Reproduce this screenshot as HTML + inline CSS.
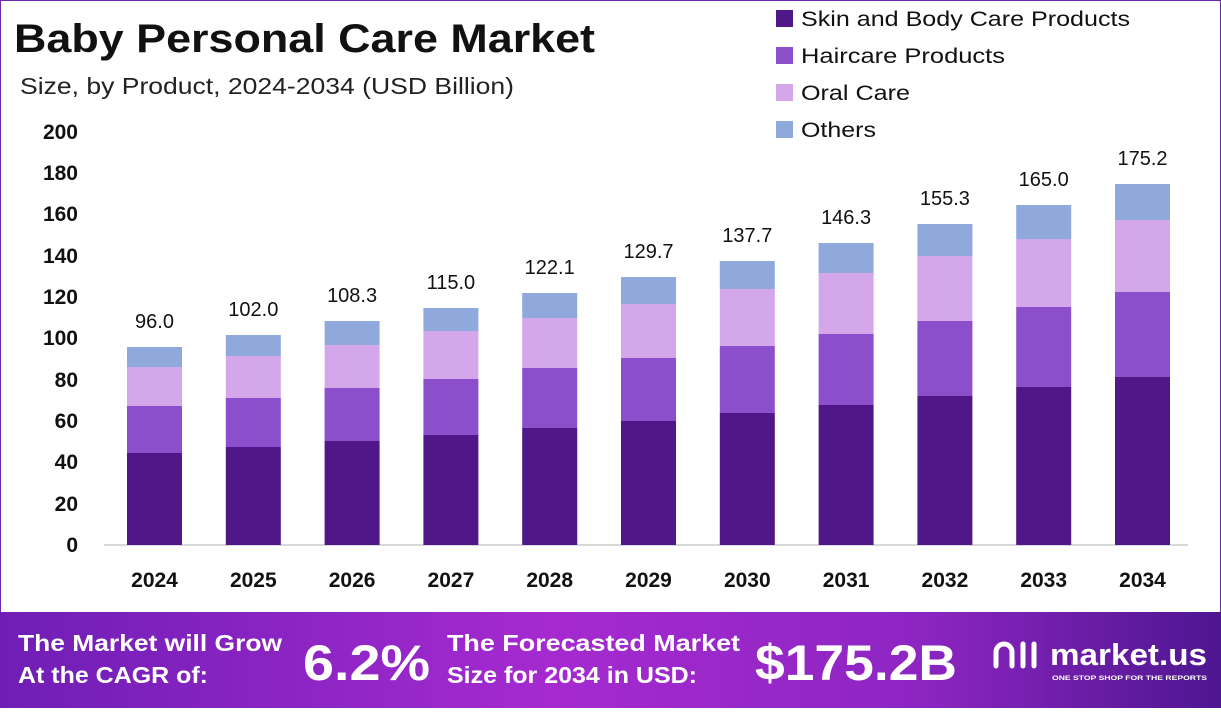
<!DOCTYPE html>
<html><head><meta charset="utf-8"><style>
body{margin:0;width:1221px;height:708px;overflow:hidden;background:#fff;font-family:"Liberation Sans",sans-serif}
</style></head><body>
<svg width="1221" height="708" viewBox="0 0 1221 708" xmlns="http://www.w3.org/2000/svg" font-family="Liberation Sans, sans-serif">
<defs>
<linearGradient id="ft" x1="0" x2="1" y1="0" y2="0">
<stop offset="0" stop-color="#6f1eb5"/><stop offset="0.45" stop-color="#a52ad0"/><stop offset="0.75" stop-color="#8e25c2"/><stop offset="1" stop-color="#4e1690"/>
</linearGradient>
</defs>
<rect x="0.5" y="0.5" width="1220" height="707" fill="none" stroke="#6a2aa8" stroke-width="1"/>
<text x="14" y="52" font-size="40" font-weight="bold" fill="#111" textLength="581" lengthAdjust="spacingAndGlyphs">Baby Personal Care Market</text>
<text x="20" y="94" font-size="23" fill="#222" textLength="494" lengthAdjust="spacingAndGlyphs">Size, by Product, 2024-2034 (USD Billion)</text>
<g font-size="21" font-weight="bold" fill="#111" text-anchor="end">
<text x="78" y="139">200</text><text x="78" y="180">180</text><text x="78" y="221">160</text><text x="78" y="263">140</text><text x="78" y="304">120</text><text x="78" y="345">100</text><text x="78" y="387">80</text><text x="78" y="428">60</text><text x="78" y="469">40</text><text x="78" y="511">20</text><text x="78" y="552">0</text>
</g>
<line x1="104" y1="545" x2="1188" y2="545" stroke="#ccc" stroke-width="1.5"/>
<g>
<rect x="127" y="453" width="55" height="92" fill="#4f1787"/><rect x="127" y="406" width="55" height="47" fill="#8b4fcc"/><rect x="127" y="367" width="55" height="39" fill="#d4a6ea"/><rect x="127" y="347" width="55" height="20" fill="#8fa9dc"/>
<rect x="225.8" y="447" width="55" height="98" fill="#4f1787"/><rect x="225.8" y="398" width="55" height="49" fill="#8b4fcc"/><rect x="225.8" y="356" width="55" height="42" fill="#d4a6ea"/><rect x="225.8" y="335" width="55" height="21" fill="#8fa9dc"/>
<rect x="324.6" y="441" width="55" height="104" fill="#4f1787"/><rect x="324.6" y="388" width="55" height="53" fill="#8b4fcc"/><rect x="324.6" y="345" width="55" height="43" fill="#d4a6ea"/><rect x="324.6" y="321" width="55" height="24" fill="#8fa9dc"/>
<rect x="423.4" y="435" width="55" height="110" fill="#4f1787"/><rect x="423.4" y="379" width="55" height="56" fill="#8b4fcc"/><rect x="423.4" y="331" width="55" height="48" fill="#d4a6ea"/><rect x="423.4" y="308" width="55" height="23" fill="#8fa9dc"/>
<rect x="522.2" y="428" width="55" height="117" fill="#4f1787"/><rect x="522.2" y="368" width="55" height="60" fill="#8b4fcc"/><rect x="522.2" y="318" width="55" height="50" fill="#d4a6ea"/><rect x="522.2" y="293" width="55" height="25" fill="#8fa9dc"/>
<rect x="621" y="421" width="55" height="124" fill="#4f1787"/><rect x="621" y="358" width="55" height="63" fill="#8b4fcc"/><rect x="621" y="304" width="55" height="54" fill="#d4a6ea"/><rect x="621" y="277" width="55" height="27" fill="#8fa9dc"/>
<rect x="719.8" y="413" width="55" height="132" fill="#4f1787"/><rect x="719.8" y="346" width="55" height="67" fill="#8b4fcc"/><rect x="719.8" y="289" width="55" height="57" fill="#d4a6ea"/><rect x="719.8" y="261" width="55" height="28" fill="#8fa9dc"/>
<rect x="818.6" y="405" width="55" height="140" fill="#4f1787"/><rect x="818.6" y="334" width="55" height="71" fill="#8b4fcc"/><rect x="818.6" y="273" width="55" height="61" fill="#d4a6ea"/><rect x="818.6" y="243" width="55" height="30" fill="#8fa9dc"/>
<rect x="917.4" y="396" width="55" height="149" fill="#4f1787"/><rect x="917.4" y="321" width="55" height="75" fill="#8b4fcc"/><rect x="917.4" y="256" width="55" height="65" fill="#d4a6ea"/><rect x="917.4" y="224" width="55" height="32" fill="#8fa9dc"/>
<rect x="1016.2" y="387" width="55" height="158" fill="#4f1787"/><rect x="1016.2" y="307" width="55" height="80" fill="#8b4fcc"/><rect x="1016.2" y="239" width="55" height="68" fill="#d4a6ea"/><rect x="1016.2" y="205" width="55" height="34" fill="#8fa9dc"/>
<rect x="1115" y="377" width="55" height="168" fill="#4f1787"/><rect x="1115" y="292" width="55" height="85" fill="#8b4fcc"/><rect x="1115" y="220" width="55" height="72" fill="#d4a6ea"/><rect x="1115" y="184" width="55" height="36" fill="#8fa9dc"/>
</g>
<g font-size="20" fill="#111" text-anchor="middle">
<text x="154.5" y="328">96.0</text><text x="253.3" y="316">102.0</text><text x="352.1" y="302">108.3</text><text x="450.9" y="289">115.0</text><text x="549.7" y="274">122.1</text><text x="648.5" y="258">129.7</text><text x="747.3" y="242">137.7</text><text x="846.1" y="224">146.3</text><text x="944.9" y="205">155.3</text><text x="1043.7" y="186">165.0</text><text x="1142.5" y="165">175.2</text>
</g>
<g font-size="21" font-weight="bold" fill="#111" text-anchor="middle">
<text x="154.5" y="587">2024</text><text x="253.3" y="587">2025</text><text x="352.1" y="587">2026</text><text x="450.9" y="587">2027</text><text x="549.7" y="587">2028</text><text x="648.5" y="587">2029</text><text x="747.3" y="587">2030</text><text x="846.1" y="587">2031</text><text x="944.9" y="587">2032</text><text x="1043.7" y="587">2033</text><text x="1142.5" y="587">2034</text>
</g>
<g font-size="21" fill="#111">
<rect x="776" y="10" width="17" height="17" fill="#4f1787"/><text x="801" y="26" textLength="329" lengthAdjust="spacingAndGlyphs">Skin and Body Care Products</text>
<rect x="776" y="47" width="17" height="17" fill="#8b4fcc"/><text x="801" y="63" textLength="204" lengthAdjust="spacingAndGlyphs">Haircare Products</text>
<rect x="776" y="84" width="17" height="17" fill="#d4a6ea"/><text x="801" y="100" textLength="109" lengthAdjust="spacingAndGlyphs">Oral Care</text>
<rect x="776" y="121" width="17" height="17" fill="#8fa9dc"/><text x="801" y="137" textLength="75" lengthAdjust="spacingAndGlyphs">Others</text>
</g>
<rect x="0" y="612" width="1221" height="96" fill="url(#ft)"/>
<g fill="#fff" font-weight="bold">
<text x="18" y="651" font-size="23" textLength="264" lengthAdjust="spacingAndGlyphs">The Market will Grow</text>
<text x="18" y="683" font-size="23" textLength="190" lengthAdjust="spacingAndGlyphs">At the CAGR of:</text>
<text x="303" y="680" font-size="50" textLength="127" lengthAdjust="spacingAndGlyphs">6.2%</text>
<text x="447" y="651" font-size="23" textLength="293" lengthAdjust="spacingAndGlyphs">The Forecasted Market</text>
<text x="447" y="683" font-size="23" textLength="250" lengthAdjust="spacingAndGlyphs">Size for 2034 in USD:</text>
<text x="755" y="680" font-size="50" textLength="202" lengthAdjust="spacingAndGlyphs">$175.2B</text>
<text x="1050" y="665" font-size="31" textLength="157" lengthAdjust="spacingAndGlyphs">market.us</text>
<text x="1052" y="680" font-size="6.5" textLength="155" lengthAdjust="spacingAndGlyphs">ONE STOP SHOP FOR THE REPORTS</text>
</g>
<g fill="none" stroke="#fff" stroke-width="5" stroke-linecap="round">
<path d="M996 666 V652 a8 8 0 0 1 16 0 V666"/><line x1="1023" y1="644" x2="1023" y2="666"/><line x1="1034" y1="644" x2="1034" y2="666"/>
</g>
</svg>
</body></html>
